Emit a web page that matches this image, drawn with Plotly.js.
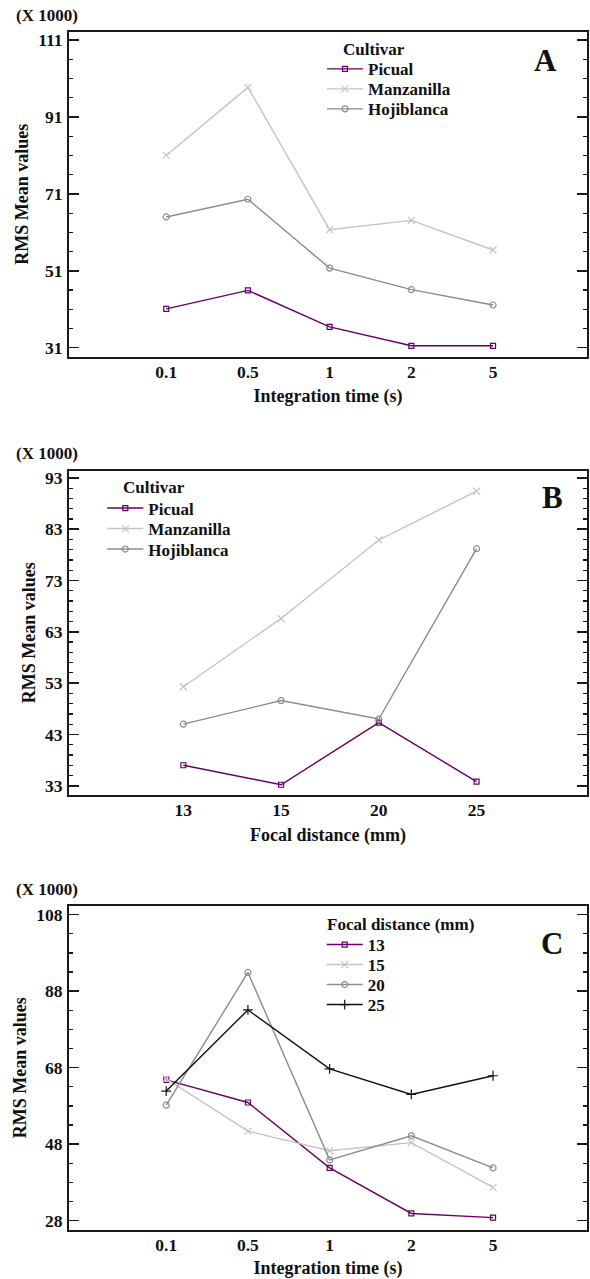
<!DOCTYPE html>
<html>
<head>
<meta charset="utf-8">
<script src="https://cdn.plot.ly/plotly-3.0.1.min.js"></script>
<style>html,body{margin:0;padding:0;background:#fff;}#chart{width:590px;height:1279px;}</style>
</head>
<body>
<div id="chart"></div>
<script>
// ---- data (values in thousands, as shown "(X 1000)") ----
const timeCats = ['0.1', '0.5', '1', '2', '5'];
const focalCats = ['13', '15', '20', '25'];

const cultivarNames = ['Picual', 'Manzanilla', 'Hojiblanca'];
const focalNames = ['13', '15', '20', '25'];

// Panel A: RMS mean vs integration time, by cultivar
const A_picual = [41.1, 45.9, 36.4, 31.5, 31.5];
const A_manzanilla = [81.0, 98.7, 61.7, 64.1, 56.4];
const A_hojiblanca = [65.0, 69.6, 51.7, 46.1, 42.1];

// Panel B: RMS mean vs focal distance, by cultivar
const B_picual = [37.0, 33.2, 45.3, 33.8];
const B_manzanilla = [52.3, 65.6, 80.9, 90.4];
const B_hojiblanca = [45.0, 49.6, 46.0, 79.2];

// Panel C: RMS mean vs integration time, by focal distance
const C_13 = [64.8, 58.9, 41.8, 29.9, 28.8];
const C_15 = [65.1, 51.4, 46.3, 48.4, 36.7];
const C_20 = [58.2, 92.9, 43.9, 50.2, 41.8];
const C_25 = [61.9, 83.1, 67.7, 61.0, 65.9];

const yTicksA = [31, 51, 71, 91, 111];
const yTicksB = [33, 43, 53, 63, 73, 83, 93];
const yTicksC = [28, 48, 68, 88, 108];

// ---- styles ----
const FONT = 'Liberation Serif, Times New Roman, serif';
const PURPLE = '#660066';
const LIGHT = '#c4c4c4';
const MID = '#8c8c8c';
const BLACK = '#111111';
const TXT = '#111';

function tr(x, y, name, color, symbol, msize, xa, ya, leg) {
  return {
    type: 'scatter', mode: 'lines+markers', x: x, y: y, name: name,
    xaxis: xa, yaxis: ya, legend: leg,
    line: {color: color, width: 1.4},
    marker: {symbol: symbol, size: msize, color: color, line: {color: color, width: 1.2}}
  };
}

const data = [
  tr(timeCats, A_picual, cultivarNames[0], PURPLE, 'square-open', 5, 'x', 'y', 'legend'),
  tr(timeCats, A_manzanilla, cultivarNames[1], LIGHT, 'x-thin-open', 7, 'x', 'y', 'legend2'),
  tr(timeCats, A_hojiblanca, cultivarNames[2], MID, 'circle-open', 6, 'x', 'y', 'legend3'),
  tr(focalCats, B_picual, cultivarNames[0], PURPLE, 'square-open', 5, 'x2', 'y2', 'legend4'),
  tr(focalCats, B_manzanilla, cultivarNames[1], LIGHT, 'x-thin-open', 7, 'x2', 'y2', 'legend5'),
  tr(focalCats, B_hojiblanca, cultivarNames[2], MID, 'circle-open', 6, 'x2', 'y2', 'legend6'),
  tr(timeCats, C_13, focalNames[0], PURPLE, 'square-open', 5, 'x3', 'y3', 'legend7'),
  tr(timeCats, C_15, focalNames[1], LIGHT, 'x-thin-open', 7, 'x3', 'y3', 'legend8'),
  tr(timeCats, C_20, focalNames[2], MID, 'circle-open', 6, 'x3', 'y3', 'legend9'),
  tr(timeCats, C_25, focalNames[3], BLACK, 'cross-thin-open', 7, 'x3', 'y3', 'legend10')
];

const tickFont = {family: FONT, size: 17.5, color: TXT, weight: 'bold'};
const titleFont = {family: FONT, size: 18, color: TXT, weight: 'bold'};
const XDOM = [69 / 590, 587 / 590];

function xax(title, range, anchor) {
  return {
    type: 'category', domain: XDOM, range: range, anchor: anchor,
    showline: true, mirror: true, linecolor: '#1a1a1a', linewidth: 2,
    ticks: '', showgrid: false, zeroline: false,
    tickfont: tickFont, ticklabelstandoff: -2,
    title: {text: title, font: titleFont, standoff: 9}
  };
}
function yax(domain, range, tickvals, minorStep, anchor) {
  return {
    domain: domain, range: range, anchor: anchor,
    showline: true, mirror: 'allticks', linecolor: '#1a1a1a', linewidth: 2,
    ticks: 'inside', ticklen: 10, tickwidth: 1.5, tickcolor: '#1a1a1a',
    tickvals: tickvals, showgrid: false, zeroline: false,
    tickfont: tickFont, ticklabelstandoff: 1,
    minor: {dtick: minorStep, tick0: tickvals[0], ticks: 'inside', ticklen: 4, tickwidth: 1.2, tickcolor: '#1a1a1a', showgrid: false},
    title: {text: 'RMS Mean values', font: titleFont, standoff: 5}
  };
}

// one legend per entry so the entries can sit 20 px apart, as in the reference
function legend(xpx, ypx) {
  return {
    x: xpx / 590, y: 1 - ypx / 1279, xanchor: 'left', yanchor: 'middle', xref: 'paper', yref: 'paper',
    bgcolor: 'rgba(0,0,0,0)', borderwidth: 0, itemwidth: 36,
    font: {family: FONT, size: 17, color: TXT, weight: 'bold'},
    tracegroupgap: 0, itemclick: false
  };
}

function ann(text, xpx, ypx, size, xanchor) {
  return {
    text: text, xref: 'paper', yref: 'paper', x: xpx / 590, y: 1 - ypx / 1279,
    xanchor: xanchor || 'center', yanchor: 'middle', showarrow: false,
    font: {family: FONT, size: size, color: TXT, weight: 'bold'}
  };
}

const layout = {
  width: 590, height: 1279,
  margin: {l: 0, r: 0, t: 0, b: 0},
  paper_bgcolor: '#fff', plot_bgcolor: '#fff',
  showlegend: true,
  xaxis: xax('Integration time (s)', [-1.19, 5.15], 'y'),
  yaxis: yax([1 - 356.7 / 1279, 1 - 32 / 1279], [28.66, 113.1], yTicksA, 5, 'x'),
  xaxis2: xax('Focal distance (mm)', [-1.17, 4.13], 'y2'),
  yaxis2: yax([1 - 795 / 1279, 1 - 470.7 / 1279], [31.2, 94.4], yTicksB, 2, 'x2'),
  xaxis3: xax('Integration time (s)', [-1.19, 5.15], 'y3'),
  yaxis3: yax([1 - 1230 / 1279, 1 - 905.7 / 1279], [25.57, 110.35], yTicksC, 5, 'x3'),
  legend: legend(322, 69.3),
  legend2: legend(322, 89.3),
  legend3: legend(322, 109.3),
  legend4: legend(102.3, 508.5),
  legend5: legend(102.3, 529),
  legend6: legend(102.3, 549.5),
  legend7: legend(321.7, 945),
  legend8: legend(321.7, 965),
  legend9: legend(321.7, 985),
  legend10: legend(321.7, 1005),
  annotations: [
    ann('Cultivar', 341, 49, 17, 'left'),
    ann('Cultivar', 121, 487.5, 17, 'left'),
    ann('Focal distance (mm)', 325, 924, 17, 'left'),
    ann('(X 1000)', 14, 15, 17, 'left'),
    ann('(X 1000)', 14, 453, 17, 'left'),
    ann('(X 1000)', 14, 889, 17, 'left'),
    ann('A', 545, 61, 31),
    ann('B', 552, 497, 31),
    ann('C', 552, 943, 31)
  ]
};

Plotly.newPlot('chart', data, layout, {staticPlot: true, displayModeBar: false});
</script>
</body>
</html>
